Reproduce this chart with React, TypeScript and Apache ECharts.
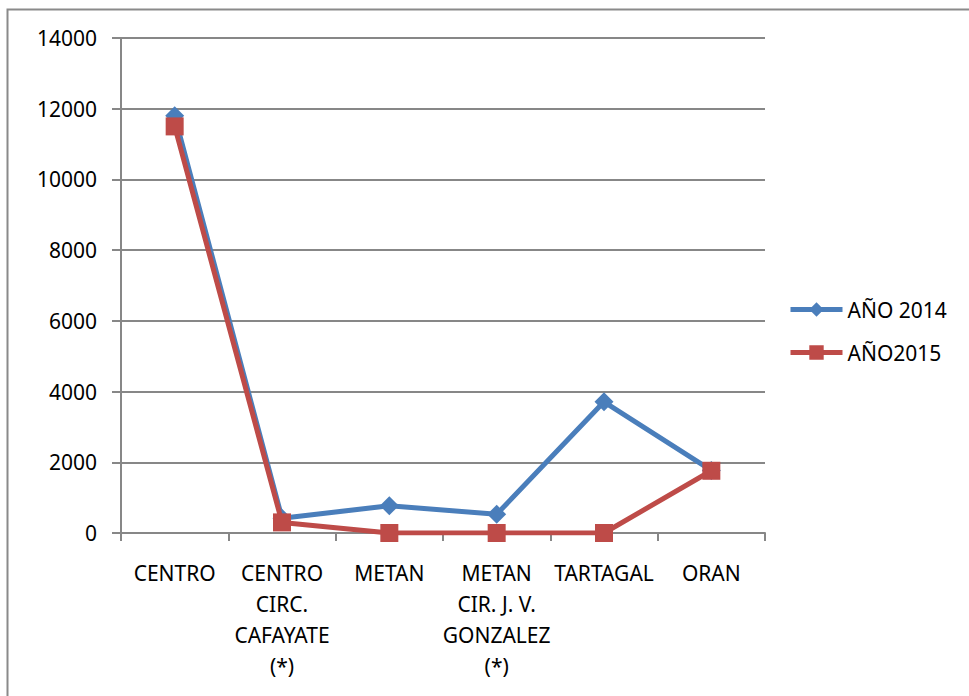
import React, { useEffect, useRef } from "react";
import * as echarts from "echarts";

const categories = [
  "CENTRO",
  "CENTRO\nCIRC.\nCAFAYATE\n(*)",
  "METAN",
  "METAN\nCIR. J. V.\nGONZALEZ\n(*)",
  "TARTAGAL",
  "ORAN",
];
const seriesNames = ["AÑO 2014", "AÑO2015"];
const values2014 = [11800, 420, 770, 530, 3710, 1770];
const values2015 = [11500, 300, 0, 0, 0, 1760];
const yTicks = { min: 0, max: 14000, interval: 2000 };

const FONT = "'Noto Sans', 'Liberation Sans', sans-serif";
const GRAY = "#878787";
const BLUE = "#4A7EBB";
const RED = "#BE4B48";

export default function App() {
  const ref = useRef<HTMLDivElement>(null);
  useEffect(() => {
    if (!ref.current) return;
    const chart = echarts.init(ref.current, null, { renderer: "svg" });
    chart.setOption({
      animation: false,
      backgroundColor: "#ffffff",
      textStyle: { fontFamily: FONT },
      graphic: [
        {
          type: "rect",
          shape: { x: 7.5, y: 9.5, width: 1100, height: 1000 },
          style: { fill: "none", stroke: "#8a8a8a", lineWidth: 2 },
          silent: true,
        },
      ],
      grid: { left: 121, right: 204, top: 38, bottom: 163, containLabel: false },
      legend: {
        orient: "vertical",
        left: 788,
        top: 299,
        padding: 0,
        itemWidth: 52,
        itemHeight: 18,
        itemGap: 22,
        textStyle: { fontFamily: FONT, fontSize: 21, color: "#000" },
        data: [
          { name: seriesNames[0], itemStyle: { color: BLUE }, lineStyle: { width: 5, color: BLUE } },
          { name: seriesNames[1], itemStyle: { color: RED }, lineStyle: { width: 5, color: RED } },
        ],
      },
      xAxis: {
        type: "category",
        data: categories,
        boundaryGap: true,
        axisLine: { lineStyle: { color: GRAY, width: 2 } },
        axisTick: { show: true, length: 8, lineStyle: { color: GRAY, width: 2 } },
        axisLabel: {
          interval: 0,
          margin: 24,
          fontFamily: FONT,
          fontSize: 21,
          lineHeight: 31,
          color: "#000",
        },
        splitLine: { show: false },
      },
      yAxis: {
        type: "value",
        min: yTicks.min,
        max: yTicks.max,
        interval: yTicks.interval,
        axisLine: { show: true, lineStyle: { color: GRAY, width: 2 } },
        axisTick: { show: true, length: 9, lineStyle: { color: GRAY, width: 2 } },
        axisLabel: {
          margin: 24,
          fontFamily: FONT,
          fontSize: 21,
          color: "#000",
          formatter: (v: number) => String(v),
        },
        splitLine: { show: true, lineStyle: { color: GRAY, width: 2 } },
      },
      series: [
        {
          name: seriesNames[0],
          type: "line",
          data: values2014,
          symbol: "diamond",
          symbolSize: 19,
          lineStyle: { color: BLUE, width: 5 },
          itemStyle: { color: BLUE },
          z: 2,
        },
        {
          name: seriesNames[1],
          type: "line",
          data: values2015,
          symbol: "rect",
          symbolSize: 18,
          lineStyle: { color: RED, width: 5 },
          itemStyle: { color: RED },
          z: 3,
        },
      ],
    });
    return () => chart.dispose();
  }, []);
  return (
    <div
      ref={ref}
      style={{ position: "fixed", left: 0, top: 0, width: 969, height: 696 }}
    />
  );
}
